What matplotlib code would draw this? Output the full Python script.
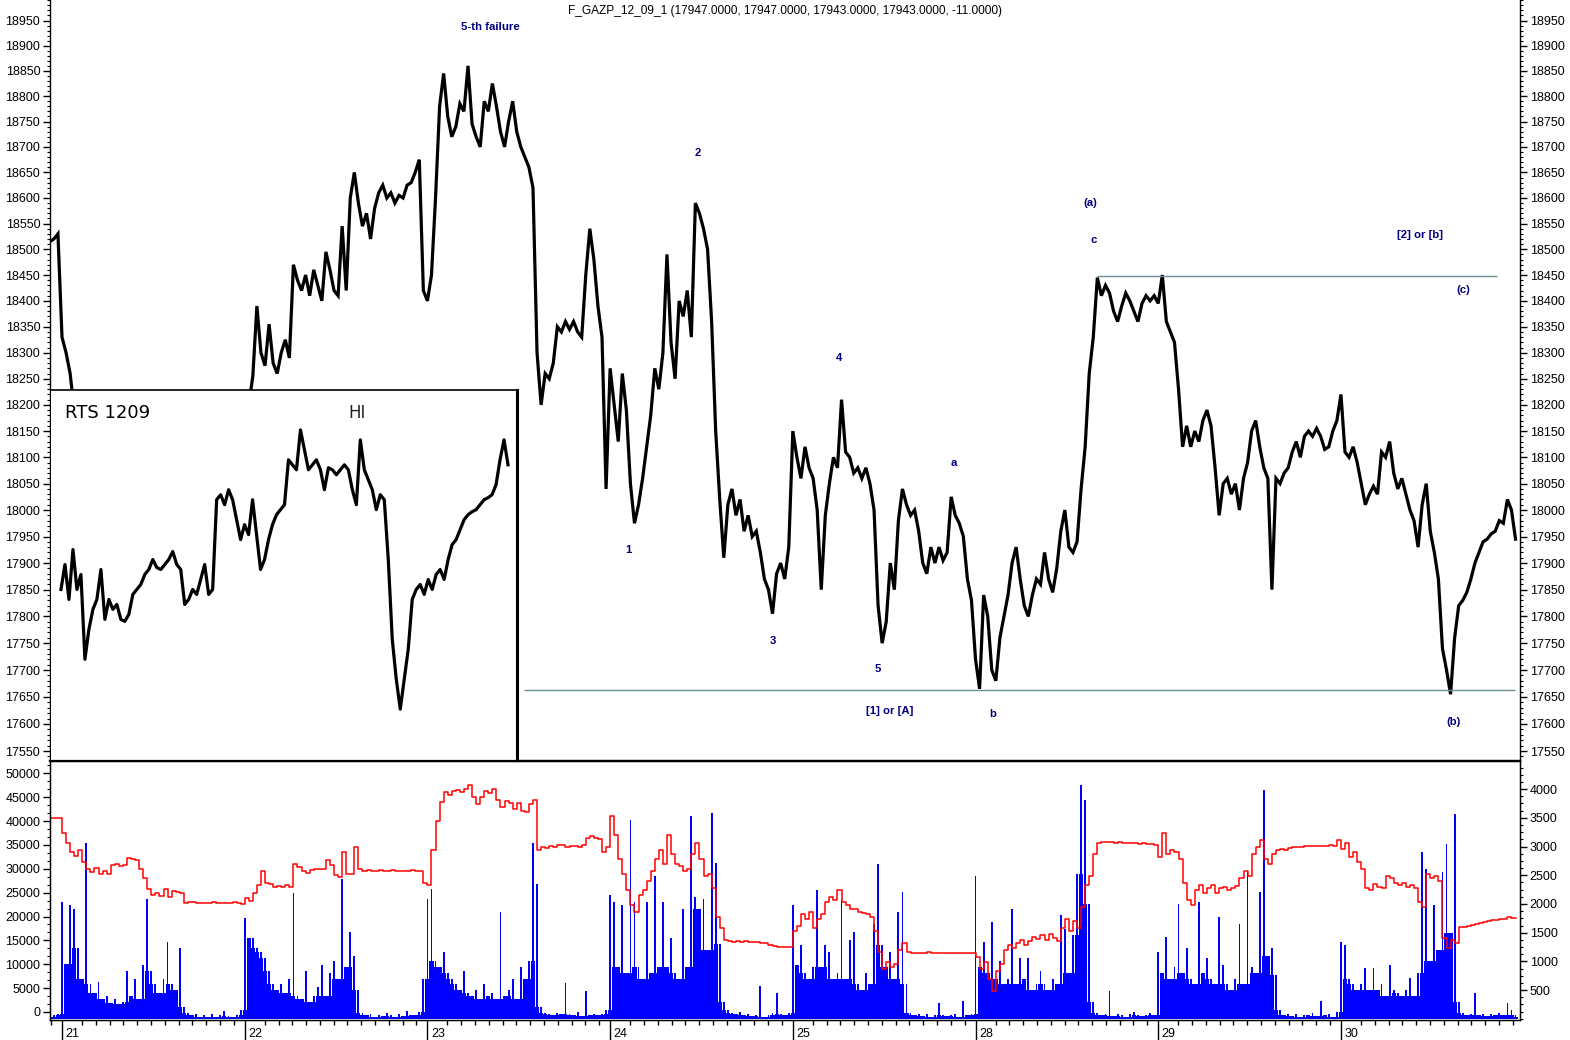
import numpy as np
import matplotlib
matplotlib.use("Agg")
import matplotlib.pyplot as plt
from matplotlib.ticker import FixedLocator, NullFormatter, FuncFormatter

plt.rcParams['font.family'] = ['Liberation Sans', 'DejaVu Sans']
nan = float('nan')

# ---------------- data ----------------
day_labels = ["21", "22", "23", "24", "25", "28", "29", "30"]
SAMPLES_PER_DAY = 45

# F_GAZP_12_09 price (samples every 1/45 of a session); NaN = hidden behind the RTS inset
gazp_20 = [18515, 18520, 18530]
gazp_21 = [18330, 18300, 18260, 18190] + [nan] * 41
gazp_22 = [nan, 18200, 18255,
           18390, 18300, 18275, 18355, 18280, 18260, 18300, 18325, 18290, 18470,
           18440, 18420, 18450, 18410, 18460, 18430, 18400, 18495, 18460, 18420,
           18410, 18545, 18420, 18600, 18650, 18590, 18545, 18570, 18520, 18580,
           18610, 18625, 18600, 18610, 18590, 18605, 18600, 18625, 18630, 18650,
           18675, 18420]
gazp_23 = [18400, 18450, 18600, 18780, 18845, 18760, 18720, 18740, 18785, 18770,
           18860, 18745, 18720, 18700, 18790, 18770, 18825, 18780, 18730, 18700,
           18750, 18790, 18730, 18700, 18680, 18660, 18620, 18300, 18200, 18260,
           18250, 18280, 18350, 18340, 18360, 18345, 18360, 18340, 18330, 18450,
           18540, 18480, 18390, 18330, 18040]
gazp_24 = [18270, 18200, 18130, 18260, 18190, 18050, 17975, 18010, 18060, 18120,
           18180, 18270, 18230, 18300, 18490, 18320, 18250, 18400, 18370, 18420,
           18330, 18590, 18570, 18540, 18500, 18360, 18150, 18020, 17910, 18010,
           18040, 17990, 18020, 17960, 17990, 17950, 17960, 17920, 17870, 17850,
           17805, 17880, 17900, 17870, 17930]
gazp_25 = [18150, 18100, 18060, 18120, 18080, 18060, 18000, 17850, 17990, 18050,
           18100, 18080, 18210, 18110, 18100, 18070, 18080, 18060, 18080, 18050,
           18000, 17820, 17750, 17790, 17900, 17850, 17980, 18040, 18010, 17990,
           18000, 17960, 17900, 17880, 17930, 17900, 17930, 17905, 17920, 18025,
           17990, 17975, 17950, 17870, 17830]
gazp_28 = [17720, 17665, 17840, 17800, 17700, 17680, 17760, 17800, 17840, 17900,
           17930, 17870, 17820, 17800, 17840, 17870, 17860, 17920, 17870, 17845,
           17890, 17960, 18000, 17930, 17920, 17940, 18040, 18120, 18260, 18330,
           18445, 18410, 18430, 18415, 18380, 18360, 18390, 18415, 18400, 18380,
           18360, 18395, 18410, 18400, 18410]
gazp_29 = [18395, 18450, 18360, 18340, 18320, 18230, 18120, 18160, 18120, 18150,
           18130, 18170, 18190, 18160, 18080, 17990, 18050, 18060, 18030, 18050,
           18000, 18060, 18090, 18150, 18170, 18120, 18080, 18060, 17850, 18060,
           18050, 18070, 18080, 18110, 18130, 18100, 18140, 18150, 18140, 18155,
           18140, 18115, 18120, 18150, 18170]
gazp_30 = [18220, 18110, 18100, 18120, 18090, 18050, 18010, 18030, 18045, 18030,
           18110, 18100, 18130, 18070, 18040, 18060, 18030, 18000, 17980, 17930,
           18010, 18050, 17960, 17920, 17870, 17740, 17700, 17655, 17760, 17820,
           17830, 17845, 17870, 17900, 17920, 17940, 17945, 17955, 17960, 17980,
           17975, 18020, 18000, 17945]

# open interest (red line, left scale of lower panel)
oi_20 = [40570, 40570, 40570]
oi_21 = [37430, 35300, 33500, 32600, 34000, 31500, 30000, 29400, 30100, 29000,
         29600, 29000, 30800, 31000, 30500, 30700, 32300, 32000, 31800, 30000,
         28000, 25800, 24500, 25000, 24200, 25800, 24000, 25400, 25200, 25000,
         22900, 22950, 23000, 22900, 22900, 22850, 22900, 22950, 22900, 22900,
         22850, 22900, 22950, 22900, 22600]
oi_22 = [23800, 23200, 25000, 26500, 29500, 27000, 26800, 26200, 26400, 26100,
         26600, 26200, 31000, 30300, 29500, 29200, 29800, 30000, 29900, 30000,
         31800, 30800, 28800, 28200, 33500, 29000, 29000, 34500, 30000, 29500,
         29700, 29600, 29550, 29650, 29600, 29600, 29700, 29600, 29550, 29600,
         29600, 29650, 29550, 29600, 27000]
oi_23 = [26500, 34000, 40000, 44000, 46000, 45500, 46200, 46500, 46000, 46800,
         47500, 45000, 43500, 45000, 46300, 45800, 46800, 44500, 43000, 44200,
         43800, 42500, 43800, 42200, 42000, 43500, 44500, 34000, 34600, 34300,
         34700, 34500, 35000, 34900, 34500, 34700, 34800, 34600, 35000, 36500,
         36900, 36500, 36300, 33500, 34500]
oi_24 = [41000, 37000, 32000, 29000, 25500, 22500, 21000, 24500, 25500, 27500,
         29500, 32000, 34000, 31000, 37000, 33000, 31000, 30500, 29500, 30000,
         33000, 35500, 32000, 28500, 29000, 26000, 20000, 17500, 15100, 14900,
         14700, 14800, 14700, 14800, 14600, 14700, 14600, 14500, 14400, 14000,
         13800, 13700, 13600, 13600, 13700]
oi_25 = [17000, 18000, 20500, 19500, 21000, 17500, 19500, 20500, 23000, 24000,
         23500, 25500, 23000, 22500, 21500, 21500, 21000, 20800, 20500, 20000,
         17000, 12500, 9000, 10500, 9500, 10000, 13000, 14500, 12600, 12400,
         12450, 12350, 12400, 12500, 12400, 12350, 12400, 12450, 12400, 12400,
         12350, 12400, 12450, 12400, 12300]
oi_28 = [11500, 9000, 10500, 7000, 4500, 8500, 10000, 13000, 14000, 13500,
         14500, 15000, 14000, 14800, 15800, 15200, 16200, 15000, 16400, 15500,
         14800, 17500, 19500, 17000, 19000, 17500, 22000, 26500, 28500, 33000,
         35500, 35700, 35600, 35650, 35500, 35600, 35400, 35300, 35350, 35300,
         35200, 35300, 35200, 35100, 35000]
oi_29 = [32500, 37500, 33000, 34000, 33500, 32000, 27000, 23500, 22500, 25500,
         26500, 25000, 26000, 26500, 25000, 26000, 26200, 25600, 26000, 26300,
         28000, 29500, 28500, 33000, 34500, 36000, 32000, 31000, 33000, 34000,
         34200, 34000, 34300, 34500, 34600, 34600, 34700, 34700, 34700, 34800,
         34800, 34800, 34900, 34800, 36000]
oi_30 = [34200, 35500, 32500, 33500, 31500, 30000, 26000, 25500, 26800, 26200,
         26000, 28500, 28000, 27000, 26500, 27000, 26200, 26600, 26000, 23000,
         22000, 29000, 28000, 28500, 27500, 15500, 13500, 15000, 14500, 17700,
         17900, 18000, 18300, 18400, 18700, 18900, 19000, 19200, 19300, 19400,
         19500, 19800, 19600, nan]

# volume (blue bars, right scale of lower panel)
vol_20 = [40, 60, 80]
vol_21 = [2030, 950, 1990, 1920, 1230, 700, 3070, 600, 450, 650,
          350, 400, 280, 350, 250, 300, 830, 400, 700, 350,
          940, 2090, 830, 600, 450, 700, 1340, 600, 500, 1230,
          200, 100, 60, 90, 40, 60, 30, 80, 40, 70,
          140, 50, 30, 60, 150]
vol_22 = [1750, 1400, 1400, 1230, 1170, 1060, 830, 600, 500, 600,
          450, 700, 2200, 400, 350, 830, 300, 400, 550, 940,
          400, 800, 1000, 700, 2440, 900, 1520, 1100, 500, 100,
          60, 90, 40, 70, 50, 100, 60, 40, 80, 50,
          140, 60, 70, 120, 700]
vol_23 = [2090, 2260, 1000, 900, 1170, 800, 700, 600, 500, 830,
          450, 400, 500, 350, 600, 400, 450, 350, 1860, 400,
          500, 700, 350, 900, 700, 1000, 3070, 2350, 200, 100,
          80, 60, 100, 90, 620, 80, 60, 120, 50, 480,
          70, 90, 60, 80, 150]
vol_24 = [2150, 2030, 900, 1980, 800, 3470, 2030, 900, 700, 2030,
          800, 2495, 900, 2030, 900, 1400, 800, 700, 1920, 900,
          3530, 2120, 1920, 2090, 1200, 3585, 2720, 1300, 300, 150,
          100, 80, 120, 60, 90, 50, 70, 570, 40, 60,
          100, 450, 80, 60, 100]
vol_25 = [1980, 940, 1290, 800, 700, 900, 2235, 900, 1290, 1170,
          700, 800, 2090, 700, 1370, 1520, 600, 500, 800, 600,
          1660, 2700, 1290, 900, 1170, 700, 1860, 2205, 600, 100,
          60, 80, 50, 90, 40, 60, 280, 70, 50, 60,
          90, 40, 310, 60, 80]
vol_28 = [2495, 900, 1340, 800, 1690, 700, 1000, 600, 700, 1920,
          600, 1060, 700, 1060, 500, 600, 830, 600, 500, 700,
          600, 1800, 1570, 800, 1460, 2520, 4070, 3815, 2000, 300,
          100, 60, 80, 480, 50, 90, 60, 40, 80, 120,
          60, 50, 70, 100, 60]
vol_29 = [1170, 800, 1430, 700, 900, 2000, 800, 1230, 700, 600,
          2030, 800, 1060, 700, 600, 1780, 940, 600, 500, 700,
          1660, 600, 2550, 900, 800, 2205, 3990, 1100, 1230, 770,
          150, 60, 90, 50, 80, 40, 70, 60, 100, 50,
          310, 60, 80, 40, 120]
vol_30 = [1340, 1290, 700, 600, 500, 600, 880, 500, 880, 500,
          600, 400, 940, 500, 450, 400, 500, 710, 400, 800,
          2900, 2610, 1000, 1980, 1200, 2550, 3040, 1500, 3560, 300,
          100, 60, 80, 450, 60, 90, 50, 80, 60, 100,
          70, 280, 150, 60]

# RTS 1209 (inset)
rts_1209 = [144550, 144925, 144400, 145150, 144550, 144775, 143500, 143950, 144250, 144400,
            144850, 144100, 144400, 144250, 144325, 144100, 144070, 144175, 144475, 144550,
            144625, 144775, 144850, 145000, 144880, 144850, 144925, 145000, 145120, 144925,
            144850, 144325, 144400, 144550, 144475, 144700, 144925, 144475, 144550, 145900,
            145975, 145825, 146050, 145900, 145600, 145300, 145525, 145375, 145900, 145375,
            144850, 145000, 145300, 145525, 145675, 145750, 145825, 146500, 146425, 146350,
            146950, 146650, 146350, 146425, 146500, 146350, 146050, 146380, 146350, 146275,
            146350, 146425, 146350, 146050, 145825, 146800, 146350, 146200, 146050, 145750,
            145975, 145900, 145000, 143800, 143200, 142750, 143200, 143650, 144400, 144550,
            144625, 144475, 144700, 144550, 144775, 144850, 144700, 145000, 145225, 145300,
            145450, 145600, 145675, 145720, 145750, 145825, 145900, 145930, 145975, 146125,
            146500, 146800, 146425]

# support / resistance levels: (price, start day, end day)
level_low = (17663, 2.53, 7.953)
level_high = (18449, 5.665, 7.854)

# wave labels: text, day position, price
wave_text = ["5-th failure", "1", "2", "3", "4", "5", "[1] or [A]", "a", "b",
             "(a)", "c", "[2] or [b]", "(c)", "(b)"]
wave_t = [2.343, 3.098, 3.481, 3.892, 4.253, 4.466, 4.532, 4.882, 5.096,
          5.627, 5.649, 7.433, 7.668, 7.614]
wave_p = [18937, 17925, 18688, 17754, 18290, 17702, 17624, 18089, 17619,
          18590, 18518, 18528, 18421, 17604]

title = "F_GAZP_12_09_1 (17947.0000, 17947.0000, 17943.0000, 17943.0000, -11.0000)"

# ---------------- build time axis ----------------
def build(pre, days):
    ts = [(np.arange(len(pre)) - len(pre)) / SAMPLES_PER_DAY]
    vs = [np.asarray(pre, float)]
    for d, lst in enumerate(days):
        ts.append(d + np.arange(len(lst)) / SAMPLES_PER_DAY)
        vs.append(np.asarray(lst, float))
    return np.concatenate(ts), np.concatenate(vs)

t_p, price = build(gazp_20, [gazp_21, gazp_22, gazp_23, gazp_24, gazp_25, gazp_28, gazp_29, gazp_30])
t_o, oi = build(oi_20, [oi_21, oi_22, oi_23, oi_24, oi_25, oi_28, oi_29, oi_30])
t_v, vol = build(vol_20, [vol_21, vol_22, vol_23, vol_24, vol_25, vol_28, vol_29, vol_30])

# solid "floor" of each bar cluster = smallest of a bar and its neighbours
vol_floor = np.minimum(vol, np.minimum(np.roll(vol, 1), np.roll(vol, -1)))

# ---------------- figure ----------------
W, H = 1570, 1040
fig = plt.figure(figsize=(W / 100, H / 100), dpi=100)

def box(x0, y0, x1, y1):
    return [x0 / W, 1 - y1 / H, (x1 - x0) / W, (y1 - y0) / H]

XMIN, XMAX = -0.0657, 7.980
navy = '#000080'
lvl_color = '#6f8f94'

# price panel
ax = fig.add_axes(box(50, 0, 1520, 761))
ax.plot(t_p, price, color='black', lw=2.3, solid_joinstyle='miter')
ax.hlines(level_low[0], level_low[1], level_low[2], color=lvl_color, lw=1)
ax.hlines(level_high[0], level_high[1], level_high[2], color=lvl_color, lw=1)
ax.set_yscale('log')
ax.set_ylim(17531.6, 18990.9)
ax.set_xlim(XMIN, XMAX)
ax.yaxis.set_major_locator(FixedLocator(np.arange(17550, 18951, 50)))
ax.yaxis.set_minor_locator(FixedLocator(np.arange(17540, 18991, 10)))
ax.yaxis.set_major_formatter(FuncFormatter(lambda v, p: f"{v:.0f}"))
ax.yaxis.set_minor_formatter(NullFormatter())
ax.tick_params(axis='y', which='both', left=True, right=True,
               labelleft=True, labelright=True, direction='out')
ax.tick_params(axis='y', which='major', length=5, width=1, labelsize=9, pad=2)
ax.tick_params(axis='y', which='minor', length=2.3, width=0.8)
ax.set_xticks([])
ax.spines['top'].set_visible(False)
ax.spines['bottom'].set_linewidth(1.6)
for s in ('left', 'right'):
    ax.spines[s].set_linewidth(1)
ax.text(0.5, 0.9855, title, transform=ax.transAxes, ha='center', va='center', fontsize=8.6)
for txt, tt, pp in zip(wave_text, wave_t, wave_p):
    ax.text(tt, pp, txt, color=navy, fontsize=8.2, fontweight='bold', ha='center', va='center')

# inset RTS 1209
axi = fig.add_axes(box(51, 390, 517, 760))
axi.set_facecolor('white')
axi.plot(np.arange(len(rts_1209)), rts_1209, color='black', lw=2.3)
axi.set_xlim(-2.5, 114.25)
axi.set_ylim(141985, 147550)
axi.set_xticks([])
axi.set_yticks([])
axi.spines['left'].set_visible(False)
axi.spines['bottom'].set_visible(False)
axi.spines['top'].set_linewidth(1.2)
axi.spines['right'].set_linewidth(2.2)
axi.text(0.03, 0.938, "RTS 1209", transform=axi.transAxes, ha='left', va='center',
         fontsize=13, family='DejaVu Sans')
axi.text(0.657, 0.938, "HI", transform=axi.transAxes, ha='center', va='center',
         fontsize=12, family='DejaVu Sans', color='#222222')

# volume / open-interest panel
axv = fig.add_axes(box(50, 761, 1520, 1020))
axb = axv.twinx()
axv.set_zorder(2)
axv.patch.set_visible(False)
axb.set_zorder(1)

step = 1 / SAMPLES_PER_DAY
axb.bar(t_v, vol_floor, width=step, color='#0000ff', linewidth=0, align='center')
axb.bar(t_v, vol, width=step * 0.45, color='#0000ff', linewidth=0, align='center')
axb.set_ylim(-20, 4490)
axb.yaxis.set_major_locator(FixedLocator(np.arange(500, 4001, 500)))
axb.yaxis.set_minor_locator(FixedLocator(np.arange(0, 4490, 125)))
axb.yaxis.set_major_formatter(FuncFormatter(lambda v, p: f"{v:.0f}"))
axb.tick_params(axis='y', which='major', length=5, width=1, labelsize=9, pad=2, direction='out')
axb.tick_params(axis='y', which='minor', length=2.3, width=0.8, direction='out')

axv.plot(t_o, oi, color='#ff0000', lw=1.1, drawstyle='steps-post')
axv.set_ylim(-1680, 52580)
axv.set_xlim(XMIN, XMAX)
axv.yaxis.set_major_locator(FixedLocator(np.arange(0, 50001, 5000)))
axv.yaxis.set_minor_locator(FixedLocator(np.arange(0, 52580, 5000 / 3)))
axv.yaxis.set_major_formatter(FuncFormatter(lambda v, p: f"{v:.0f}"))
axv.tick_params(axis='y', which='major', length=5, width=1, labelsize=9, pad=2, direction='out')
axv.tick_params(axis='y', which='minor', length=2.3, width=0.8, direction='out')

days = np.arange(len(day_labels))
hours = np.concatenate([d + 0.1095 + 0.0755 * np.arange(12) for d in range(-1, len(day_labels))])
hours = hours[(hours > XMIN) & (hours < XMAX)]
axv.xaxis.set_major_locator(FixedLocator(days))
axv.xaxis.set_minor_locator(FixedLocator(hours))
axv.xaxis.set_major_formatter(NullFormatter())
axv.tick_params(axis='x', which='major', length=14.5, width=1, direction='out')
axv.tick_params(axis='x', which='minor', length=3.5, width=1, direction='out')
for d, lab in zip(days, day_labels):
    axv.annotate(lab, xy=(d, 0), xycoords=('data', 'axes fraction'), xytext=(2.5, -10),
                 textcoords='offset points', ha='left', va='center', fontsize=9)
for s in axv.spines.values():
    s.set_linewidth(1)
axv.spines['top'].set_linewidth(1.6)

fig.savefig("out.png", dpi=100, facecolor='white')
